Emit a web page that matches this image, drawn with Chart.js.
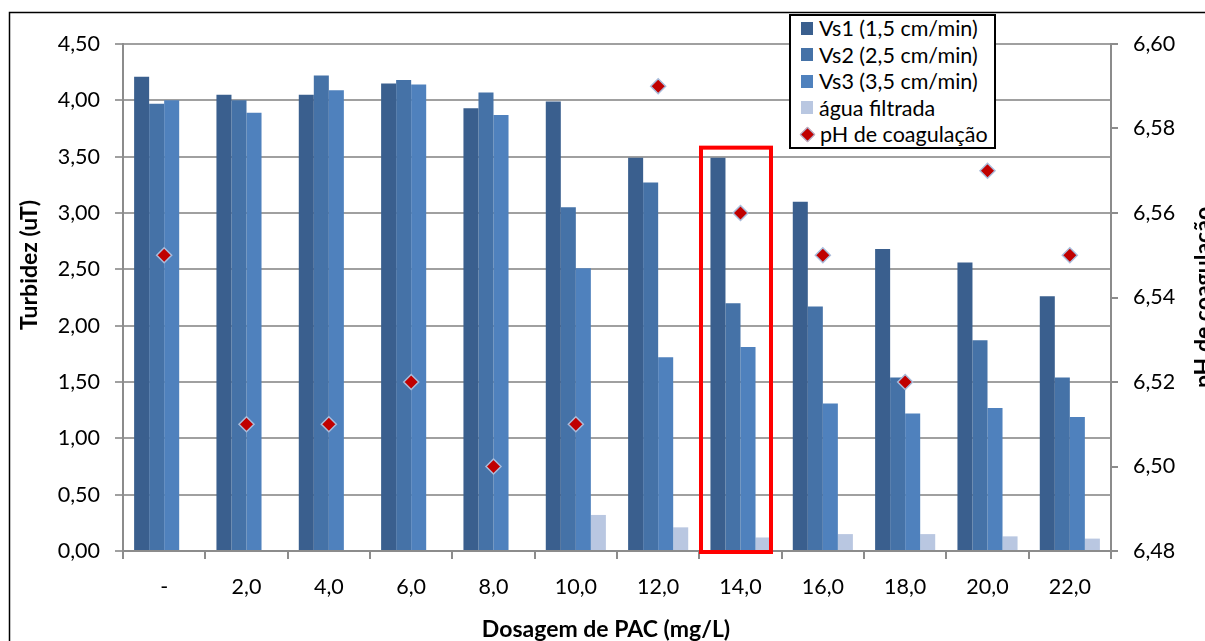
<!DOCTYPE html>
<html lang="pt">
<head>
  <meta charset="UTF-8" />
  <title>Turbidez x Dosagem de PAC</title>
  <script src="https://cdn.jsdelivr.net/npm/chart.js"></script>
  <style>
    body { margin: 0; background: #fff; }
    #wrap { position: relative; width: 1205px; height: 641px; overflow: hidden; }
    #legend {
      position: absolute; left: 789px; top: 14px; width: 203px; height: 131px;
      border: 2px solid #000; background: #fff;
      font-family: Lato, sans-serif; font-size: 21.5px; color: #000;
    }
    .row { display: flex; align-items: center; height: 26.5px; white-space: nowrap; }
    .row:first-child { margin-top: -1px; }
    .sw { width: 12px; height: 13px; margin-left: 10px; margin-right: 6px; flex: none; }
    .dia {
      width: 9px; height: 9px; margin-left: 11px; margin-right: 7px; flex: none;
      background: #c00000; border: 1px solid #a9bcdb; transform: rotate(45deg);
    }
  </style>
</head>
<body>
  <div id="wrap">
    <canvas id="chart"></canvas>
    <div id="legend">
      <div class="row"><span class="sw" style="background:#3a5f8e"></span>Vs1 (1,5 cm/min)</div>
      <div class="row"><span class="sw" style="background:#4572a7"></span>Vs2 (2,5 cm/min)</div>
      <div class="row"><span class="sw" style="background:#4f81bd"></span>Vs3 (3,5 cm/min)</div>
      <div class="row"><span class="sw" style="background:#b9c7e1"></span>água filtrada</div>
      <div class="row"><span class="dia"></span>pH de coagulação</div>
    </div>
  </div>
  <script>
    // dados
    const dosagens = ['-', '2,0', '4,0', '6,0', '8,0', '10,0', '12,0', '14,0', '16,0', '18,0', '20,0', '22,0'];
    const vs1 = [4.21, 4.05, 4.05, 4.15, 3.93, 3.99, 3.49, 3.49, 3.10, 2.68, 2.56, 2.26];
    const vs2 = [3.97, 4.00, 4.22, 4.18, 4.07, 3.05, 3.27, 2.20, 2.17, 1.54, 1.87, 1.54];
    const vs3 = [4.00, 3.89, 4.09, 4.14, 3.87, 2.51, 1.72, 1.81, 1.31, 1.22, 1.27, 1.19];
    const aguaFiltrada = [null, null, null, null, null, 0.32, 0.21, 0.12, 0.15, 0.15, 0.13, 0.11];
    const phCoagulacao = [6.55, 6.51, 6.51, 6.52, 6.50, 6.51, 6.59, 6.56, 6.55, 6.52, 6.57, 6.55];
    const destaque = 7; // dosagem 14,0 destacada em vermelho

    const tickFont = { family: 'Lato', size: 21.5 };
    const titleFont = 'bold 23px Lato';
    const fmt = v => Number(v).toFixed(2).replace('.', ',');

    const extras = {
      id: 'extras',
      afterDatasetsDraw(chart) {
        const { ctx, scales: { x, y } } = chart;
        const cx = x.getPixelForValue(destaque);
        ctx.save();
        ctx.strokeStyle = '#ff0000';
        ctx.lineWidth = 4;
        ctx.strokeRect(cx - 39.5, y.getPixelForValue(3.58), 70, y.getPixelForValue(0) - y.getPixelForValue(3.58) + 1);
        ctx.restore();
      },
      afterDraw(chart) {
        const { ctx, chartArea: a } = chart;
        ctx.save();
        ctx.strokeStyle = '#000';
        ctx.lineWidth = 1.5;
        ctx.strokeRect(9.5, 12.5, 1400, 800);
        ctx.fillStyle = '#000';
        ctx.font = titleFont;
        ctx.textAlign = 'center';
        ctx.textBaseline = 'alphabetic';
        ctx.fillText('Dosagem de PAC (mg/L)', (a.left + a.right) / 2 - 11, 637);
        ctx.translate(37, 265);
        ctx.rotate(-Math.PI / 2);
        ctx.fillText('Turbidez (uT)', 0, 0);
        ctx.restore();
        ctx.save();
        ctx.fillStyle = '#000';
        ctx.font = titleFont;
        ctx.textAlign = 'center';
        ctx.textBaseline = 'alphabetic';
        ctx.translate(1211, (a.top + a.bottom) / 2);
        ctx.rotate(-Math.PI / 2);
        ctx.fillText('pH de coagulação', 0, 0);
        ctx.restore();
      }
    };

    new Chart(document.getElementById('chart'), {
      data: {
        labels: dosagens,
        datasets: [
          { type: 'bar', label: 'Vs1 (1,5 cm/min)', data: vs1, backgroundColor: '#3a5f8e', yAxisID: 'y' },
          { type: 'bar', label: 'Vs2 (2,5 cm/min)', data: vs2, backgroundColor: '#4572a7', yAxisID: 'y' },
          { type: 'bar', label: 'Vs3 (3,5 cm/min)', data: vs3, backgroundColor: '#4f81bd', yAxisID: 'y' },
          { type: 'bar', label: 'água filtrada', data: aguaFiltrada, backgroundColor: '#b9c7e1', yAxisID: 'y' },
          {
            type: 'line', label: 'pH de coagulação', data: phCoagulacao, yAxisID: 'y1', order: -1,
            showLine: false, pointStyle: 'rectRot', pointRadius: 7.5,
            pointBackgroundColor: '#c00000', pointBorderColor: '#a9bcdb', pointBorderWidth: 1.5
          }
        ]
      },
      options: {
        responsive: true,
        maintainAspectRatio: false,
        animation: false,
        layout: { padding: { top: 44, left: 0, right: 0, bottom: 0 } },
        datasets: { bar: { categoryPercentage: 0.73, barPercentage: 1.0 } },
        plugins: { legend: { display: false }, tooltip: { enabled: false } },
        scales: {
          x: {
            offset: true,
            grid: { offset: true, drawOnChartArea: false, tickLength: 8, color: '#8c8c8c', lineWidth: 2 },
            border: { color: '#8c8c8c', width: 2 },
            ticks: { font: tickFont, color: '#000', padding: 15, autoSkip: false, maxRotation: 0 },
            afterFit(s) { s.height = 90; }
          },
          y: {
            position: 'left', min: 0, max: 4.5,
            grid: { color: '#a0a0a0', lineWidth: 2, tickLength: 8 },
            border: { color: '#8c8c8c', width: 2 },
            ticks: { stepSize: 0.5, font: tickFont, color: '#000', padding: 15, callback: fmt },
            afterFit(s) { s.width = 123; }
          },
          y1: {
            position: 'right', min: 6.48, max: 6.60,
            grid: { drawOnChartArea: false, color: '#8c8c8c', lineWidth: 2, tickLength: 7 },
            border: { color: '#8c8c8c', width: 2 },
            ticks: { stepSize: 0.02, font: tickFont, color: '#000', padding: 15, callback: fmt },
            afterFit(s) { s.width = 94; }
          }
        }
      },
      plugins: [extras]
    });
  </script>
</body>
</html>
